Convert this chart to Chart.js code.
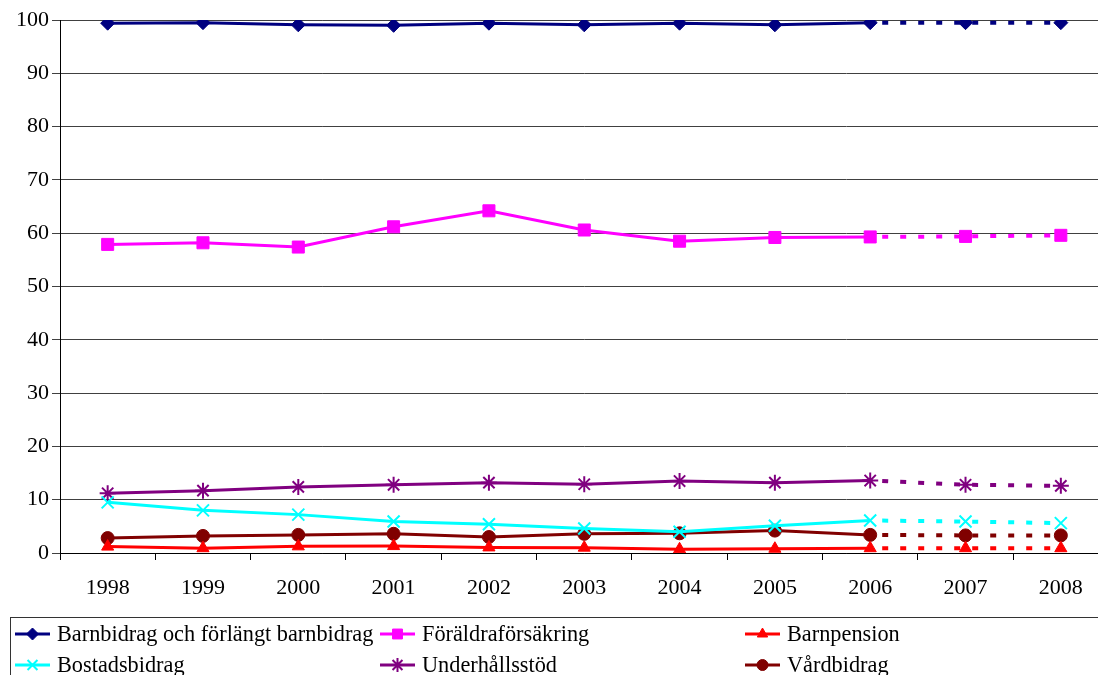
<!DOCTYPE html>
<html><head><meta charset="utf-8">
<script src="https://cdn.jsdelivr.net/npm/chart.js@4"></script>
<style>html,body{margin:0;padding:0;background:#fff;overflow:hidden;}#wrap{width:1098px;height:675px;position:relative;overflow:hidden;}</style>
</head><body><div id="wrap"><canvas id="c" width="1119" height="675"></canvas></div>
<script>
const years = ['1998','1999','2000','2001','2002','2003','2004','2005','2006','2007','2008'];
const yTicks = [0,10,20,30,40,50,60,70,80,90,100];
const barnbidrag = [99.4,99.5,99.1,99.0,99.4,99.1,99.4,99.1,99.5,99.5,99.5];
const foraldra = [57.9,58.2,57.4,61.2,64.2,60.6,58.5,59.2,59.3,59.4,59.6];
const barnpension = [1.2,0.9,1.25,1.3,1.05,1.0,0.7,0.8,0.9,0.9,0.9];
const bostad = [9.5,8.0,7.2,5.9,5.4,4.6,4.0,5.1,6.1,5.9,5.6];
const underhall = [11.2,11.7,12.4,12.8,13.2,12.9,13.5,13.2,13.6,12.8,12.6];
const vard = [2.8,3.2,3.4,3.6,3.0,3.6,3.7,4.2,3.4,3.3,3.3];
const names = ['Barnbidrag och förlängt barnbidrag','Föräldraförsäkring','Barnpension','Bostadsbidrag','Underhållsstöd','Vårdbidrag'];

const FONT = '"Liberation Serif", "Times New Roman", serif';
function mk(label, data, color, style, radius) {
  const bw = (style === 'crossRot' || style === 'star') ? 2 : 1;
  return {
    label, data, borderColor: color, backgroundColor: color,
    borderWidth: 3, pointStyle: style, pointRadius: radius, pointHoverRadius: radius,
    pointBorderColor: color, pointBackgroundColor: color, pointBorderWidth: bw,
    tension: 0,
    segment: {
      borderDash: ctx => ctx.p0DataIndex >= 8 ? [6,12] : undefined,
      borderDashOffset: ctx => ctx.p0DataIndex >= 8 ? -12 : 0,
      borderWidth: ctx => ctx.p0DataIndex >= 8 ? 4 : 3
    }
  };
}
const datasets = [
  mk(names[0], barnbidrag, '#000080', 'rectRot', 7),
  mk(names[1], foraldra, '#FF00FF', 'rect', 8.5),
  mk(names[2], barnpension, '#FF0000', 'triangle', 7),
  mk(names[3], bostad, '#00FFFF', 'crossRot', 8.5),
  mk(names[4], underhall, '#800080', 'star', 8),
  mk(names[5], vard, '#800000', 'circle', 6.5)
];
const legendRadius = [6, 7, 6, 7, 7, 5.5];

const legendPlugin = {
  id: 'boxLegend',
  afterDraw(chart) {
    const ctx = chart.ctx;
    ctx.save();
    ctx.strokeStyle = '#333'; ctx.lineWidth = 1;
    ctx.strokeRect(10.5, 617.5, 1130, 80);
    const cols = [15, 380, 745];
    const rows = [634, 665];
    ctx.font = '22.3px ' + FONT;
    ctx.textBaseline = 'middle';
    chart.data.datasets.forEach((ds, i) => {
      const x = cols[i % 3], y = rows[Math.floor(i / 3)];
      ctx.strokeStyle = ds.borderColor; ctx.fillStyle = ds.borderColor;
      ctx.lineWidth = 3;
      ctx.beginPath(); ctx.moveTo(x, y); ctx.lineTo(x + 35, y); ctx.stroke();
      ctx.lineWidth = ds.pointBorderWidth;
      Chart.helpers.drawPoint(ctx, {pointStyle: ds.pointStyle, radius: legendRadius[i], borderWidth: ds.pointBorderWidth, rotation: 0}, x + 17.5, y);
      ctx.fillStyle = '#000';
      ctx.fillText(ds.label, x + 42, y + 1);
    });
    ctx.restore();
  }
};

new Chart(document.getElementById('c'), {
  type: 'line',
  data: { labels: years, datasets },
  options: {
    responsive: false, animation: false,
    layout: { padding: { top: 20, left: 0, right: 0, bottom: 72 } },
    plugins: { legend: { display: false }, tooltip: { enabled: false } },
    scales: {
      x: {
        offset: true,
        grid: { display: true, drawOnChartArea: false, drawTicks: true, tickLength: 7, color: '#000', offset: true },
        border: { display: true, color: '#000', width: 1 },
        ticks: { color: '#000', font: { family: FONT, size: 22 }, padding: 15, maxRotation: 0 },
        afterFit: s => { s.height = 50; s.paddingRight = 0; s.paddingLeft = 0; }
      },
      y: {
        min: 0, max: 100,
        afterBuildTicks: s => { s.ticks = yTicks.map(v => ({ value: v })); },
        grid: { color: '#404040', lineWidth: 1, tickLength: 8 },
        border: { display: true, color: '#000', width: 1 },
        ticks: { color: '#000', font: { family: FONT, size: 22 }, padding: 3 },
        afterFit: s => { s.width = 60; }
      }
    }
  },
  plugins: [legendPlugin]
});
</script></body></html>
